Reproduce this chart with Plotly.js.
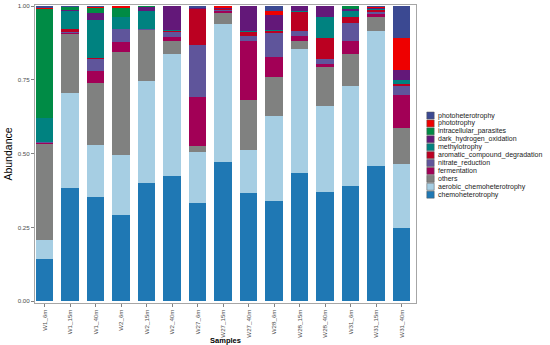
<!DOCTYPE html>
<html>
<head>
<meta charset="utf-8">
<script src="https://cdn.plot.ly/plotly-3.0.1.min.js"></script>
<style>html,body{margin:0;padding:0;background:#fff;}#chart{width:550px;height:345px;}</style>
</head>
<body>
<div id="chart"></div>
<script>
var samples = ["W1_6m","W1_15m","W1_40m","W2_6m","W2_15m","W2_40m","W27_6m","W27_15m","W27_40m","W28_6m","W28_15m","W28_40m","W31_6m","W31_15m","W31_40m"];

var chemoheterotrophy = [0.144,0.384,0.353,0.293,0.402,0.423,0.334,0.472,0.368,0.341,0.434,0.370,0.392,0.460,0.249];
var aerobic_chemoheterotrophy = [0.063,0.321,0.175,0.204,0.344,0.416,0.171,0.469,0.146,0.288,0.422,0.291,0.337,0.456,0.216];
var others = [0.326,0.202,0.211,0.348,0.172,0.043,0.020,0.037,0.167,0.132,0.026,0.134,0.108,0.049,0.122];
var fermentation = [0.004,0.003,0.041,0.034,0.002,0.014,0.168,0.005,0.201,0.068,0.017,0.008,0.045,0.008,0.111];
var nitrate_reduction = [0.001,0.004,0.040,0.043,0.002,0.018,0.174,0.004,0.017,0.081,0.017,0.017,0.062,0.006,0.031];
var aromatic_compound_degradation = [0.002,0.008,0.003,0.001,0.001,0.001,0.125,0.004,0.015,0.006,0.065,0.073,0.021,0.008,0.008];
var methylotrophy = [0.081,0.062,0.129,0.039,0.060,0.003,0.000,0.001,0.002,0.003,0.001,0.072,0.017,0.002,0.012];
var dark_hydrogen_oxidation = [0.001,0.003,0.026,0.002,0.014,0.081,0.001,0.003,0.083,0.050,0.017,0.034,0.008,0.006,0.034];
var intracellular_parasites = [0.368,0.010,0.015,0.030,0.002,0.000,0.000,0.000,0.000,0.001,0.000,0.000,0.009,0.000,0.000];
var phototrophy = [0.004,0.001,0.005,0.005,0.0005,0.000,0.001,0.004,0.000,0.015,0.000,0.000,0.000,0.003,0.108];
var photoheterotrophy = [0.006,0.002,0.002,0.001,0.0005,0.001,0.006,0.001,0.001,0.015,0.001,0.001,0.001,0.002,0.109];

// bottom-to-top stacking order
var seriesNames = ["chemoheterotrophy","aerobic_chemoheterotrophy","others","fermentation","nitrate_reduction","aromatic_compound_degradation","methylotrophy","dark_hydrogen_oxidation","intracellular_parasites","phototrophy","photoheterotrophy"];
var seriesValues = [chemoheterotrophy,aerobic_chemoheterotrophy,others,fermentation,nitrate_reduction,aromatic_compound_degradation,methylotrophy,dark_hydrogen_oxidation,intracellular_parasites,phototrophy,photoheterotrophy];
var seriesColors = ["#1F78B4","#A6CEE3","#808180","#A20056","#5F559B","#BB0021","#008280","#631879","#008B45","#EE0000","#3B4992"];

var traces = seriesNames.map(function(n,i){
  return {type:'bar', name:n, x:samples, y:seriesValues[i],
    marker:{color:seriesColors[i], line:{width:0}}, showlegend:false};
});

// custom legend (top entry = last series)
var L = 35, R = 416, T = 5, B = 303;
var py = function(v){ return (B - v) / (B - T); };
var px = function(v){ return (v - L) / (R - L); };
var shapes = [], annotations = [];
for (var k = 0; k < seriesNames.length; k++) {
  var idx = seriesNames.length - 1 - k;
  var yc = 115.5 + 7.92 * k;
  shapes.push({type:'rect', xref:'paper', yref:'paper',
    x0:px(426.8), x1:px(434.2), y0:py(yc+3.5), y1:py(yc-3.5),
    fillcolor:seriesColors[idx], line:{color:'#555', width:0.5}});
  annotations.push({xref:'paper', yref:'paper', x:px(437), y:py(yc),
    xanchor:'left', yanchor:'middle', showarrow:false, text:seriesNames[idx],
    borderpad:0,
    font:{size:7, color:'#1a1a1a', family:'Liberation Sans, Arial, sans-serif'}});
}

var layout = {
  width:550, height:345,
  margin:{l:L, r:550-R, t:T, b:345-B},
  paper_bgcolor:'#fff', plot_bgcolor:'#fff',
  barmode:'stack', bargap:0.3,
  font:{family:'Liberation Sans, Arial, sans-serif'},
  xaxis:{type:'category', range:[-0.373,14.567], showgrid:false, zeroline:false,
    showline:true, mirror:true, linecolor:'#a6a6a6', linewidth:1,
    ticks:'outside', ticklen:3, tickcolor:'#4d4d4d', tickwidth:0.7, tickangle:-90,
    tickfont:{size:6.2, color:'#4d4d4d'},
    title:{text:'<b>Samples</b>', font:{size:7.5, color:'#000'}, standoff:4}},
  yaxis:{range:[-0.006,1.004], showgrid:false, zeroline:false,
    showline:true, mirror:true, linecolor:'#a6a6a6', linewidth:1,
    ticks:'outside', ticklen:3, tickcolor:'#4d4d4d', tickwidth:0.7,
    tickvals:[0,0.25,0.5,0.75,1], ticktext:['0.00','0.25','0.50','0.75','1.00'],
    tickfont:{size:6.2, color:'#4d4d4d'},
    title:{text:'Abundance', font:{size:10.5, color:'#000'}, standoff:3}},
  shapes:shapes, annotations:annotations, showlegend:false
};

Plotly.newPlot('chart', traces, layout, {displayModeBar:false, staticPlot:true});
</script>
</body>
</html>
